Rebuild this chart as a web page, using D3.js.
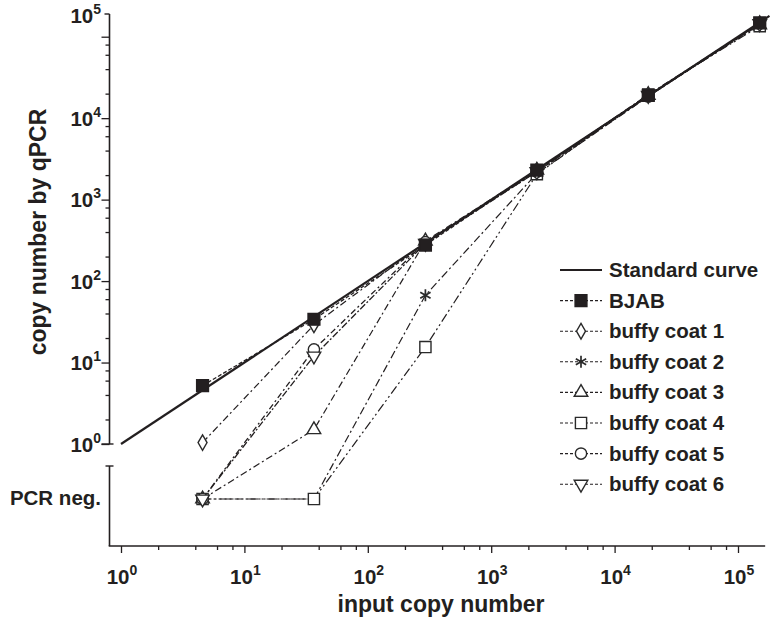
<!DOCTYPE html>
<html>
<head>
<meta charset="utf-8">
<script src="https://cdn.jsdelivr.net/npm/d3@7"></script>
<style>
  body { margin: 0; background: #fff; }
  svg { display: block; font-family: "Liberation Sans", Arial, sans-serif; font-weight: bold; }
</style>
</head>
<body>
<script>
// ---------- data ----------
const inputCopies = [4.58, 36.6, 293, 2344, 18750, 150000];
const standardRange = [1, 180000];           // standard curve: qPCR = input
const bjab        = [5.2, 34, 277, 2300, 19000, 148000];
const buffyCoat1  = [1.04, 29, 300, 2250, 19500, 145000];
const buffyCoat2  = [0, 0, 67, 2100, 18500, 145000];   // 0 = PCR negative
const buffyCoat3  = [0, 1.5, 310, 2300, 19000, 140000];
const buffyCoat4  = [0, 0, 15.5, 2050, 19500, 135000];
const buffyCoat5  = [0, 14.5, 300, 2200, 18500, 145000];
const buffyCoat6  = [0, 12, 290, 2200, 19000, 145000];
const seriesNames = ["BJAB", "buffy coat 1", "buffy coat 2", "buffy coat 3", "buffy coat 4", "buffy coat 5", "buffy coat 6"];
const legendLabels = ["Standard curve"].concat(seriesNames);
const xTickExponents = [0, 1, 2, 3, 4, 5];
const yTickExponents = [0, 1, 2, 3, 4, 5];
const negLabel = "PCR neg.";

// ---------- layout ----------
const W = 771, H = 623;
const ink = "#231f20";
const svg = d3.select("body").append("svg").attr("width", W).attr("height", H);

const x = d3.scaleLog().domain([1, 1e5]).range([121, 738]);
const y = d3.scaleLog().domain([1, 1.9e5]).range([444, 14]);
const yNeg = d3.scalePoint().domain([negLabel]).range([466, 532]).padding(0.5);

const axisX = 109.5, axisY = 546;
const xEnd = x(1.66e5);

const yPos = v => v === 0 ? yNeg(negLabel) : y(v);

// ---------- axes ----------
const g = svg.append("g");
g.append("line").attr("x1", axisX).attr("x2", axisX).attr("y1", y(1)).attr("y2", y.range()[1])
  .attr("stroke", ink).attr("stroke-width", 1.6);
g.append("line").attr("x1", axisX - 5).attr("x2", axisX).attr("y1", y.range()[1]).attr("y2", y.range()[1])
  .attr("stroke", ink).attr("stroke-width", 1.4);
g.append("line").attr("x1", axisX - 8).attr("x2", axisX + 4).attr("y1", y(1)).attr("y2", y(1))
  .attr("stroke", ink).attr("stroke-width", 1.4);
g.append("line").attr("x1", axisX).attr("x2", axisX).attr("y1", 466).attr("y2", axisY)
  .attr("stroke", ink).attr("stroke-width", 1.6);
g.append("line").attr("x1", axisX - 4).attr("x2", axisX + 4).attr("y1", 466).attr("y2", 466)
  .attr("stroke", ink).attr("stroke-width", 1.4);
g.append("line").attr("x1", axisX - 0.8).attr("x2", xEnd).attr("y1", axisY).attr("y2", axisY)
  .attr("stroke", ink).attr("stroke-width", 1.6);

const minorX = [], minorY = [];
for (let k = 0; k <= 5; k++) for (const m of [2, 4, 6, 8]) {
  const v = m * Math.pow(10, k);
  if (x(v) < xEnd) minorX.push(v);
  if (v < y.domain()[1]) minorY.push(v);
}
const majorVals = e => e.map(k => Math.pow(10, k));

const yMajor = svg.append("g").attr("transform", `translate(${axisX},0)`)
  .call(d3.axisLeft(y).tickValues(majorVals(yTickExponents)).tickSize(8).tickFormat(""));
const yMinor = svg.append("g").attr("transform", `translate(${axisX},0)`)
  .call(d3.axisLeft(y).tickValues(minorY).tickSize(4).tickFormat(""));
const xMajor = svg.append("g").attr("transform", `translate(0,${axisY})`)
  .call(d3.axisBottom(x).tickValues(majorVals(xTickExponents)).tickSize(7).tickFormat(""));
const xMinor = svg.append("g").attr("transform", `translate(0,${axisY})`)
  .call(d3.axisBottom(x).tickValues(minorX).tickSize(4).tickFormat(""));
[yMajor, yMinor, xMajor, xMinor].forEach(a => {
  a.select(".domain").remove();
  a.selectAll(".tick line").attr("stroke", ink).attr("stroke-width", 1.3);
});

function powLabel(sel, k, anchor) {
  sel.attr("text-anchor", anchor).attr("fill", ink).attr("font-size", 20.5);
  sel.append("tspan").text("10");
  sel.append("tspan").attr("dy", -9).attr("font-size", 14).text(k);
}
yTickExponents.forEach(k => {
  const v = Math.pow(10, k);
  const yy = k === d3.max(yTickExponents) ? y.range()[1] + 1 : y(v);
  powLabel(svg.append("text").attr("x", 101).attr("y", yy + 7.5), k, "end");
});
xTickExponents.forEach(k => {
  powLabel(svg.append("text").attr("x", x(Math.pow(10, k)) + 1).attr("y", 584), k, "middle");
});
svg.append("text").attr("x", 101).attr("y", yNeg(negLabel) + 6).attr("text-anchor", "end")
  .attr("font-size", 20.5).attr("fill", ink).text(negLabel);

svg.append("text").attr("transform", `translate(46,232) rotate(-90)`).attr("text-anchor", "middle")
  .attr("font-size", 23).attr("fill", ink).text("copy number by qPCR");
svg.append("text").attr("x", 441).attr("y", 612).attr("text-anchor", "middle")
  .attr("font-size", 23).attr("fill", ink).text("input copy number");

// ---------- series ----------
const series = [
  { name: seriesNames[0], values: bjab,       symbol: d3.symbolSquare,   size: 140, fill: ink,    dash: "4,2",         sw: 1.3 },
  { name: seriesNames[1], values: buffyCoat1, symbol: d3.symbolDiamond,  size: 70,  fill: "#fff", dash: "7,3,2,3",     sw: 1.2 },
  { name: seriesNames[2], values: buffyCoat2, symbol: d3.symbolAsterisk, size: 100, fill: "none", dash: "8,3,2,3",     sw: 1.2 },
  { name: seriesNames[3], values: buffyCoat3, symbol: d3.symbolTriangle, size: 80,  fill: "#fff", dash: "7,3,2,3",     sw: 1.2 },
  { name: seriesNames[4], values: buffyCoat4, symbol: d3.symbolSquare,   size: 125, fill: "#fff", dash: "9,3,2,3,2,3", sw: 1.2 },
  { name: seriesNames[5], values: buffyCoat5, symbol: d3.symbolCircle,   size: 100, fill: "#fff", dash: "6,3,2,3",     sw: 1.3 },
  { name: seriesNames[6], values: buffyCoat6, symbol: d3.symbolTriangle, size: 80,  fill: "#fff", dash: "7,2,2,2",     sw: 1.3, rotate: 180 }
];

const line = d3.line().x(d => x(d.x)).y(d => yPos(d.y));

svg.append("path")
  .attr("d", line(standardRange.map(v => ({ x: v, y: v }))))
  .attr("fill", "none").attr("stroke", ink).attr("stroke-width", 2.2);

const drawOrder = series.slice(1).concat([series[0]]);
drawOrder.forEach(s => {
  const pts = inputCopies.map((xv, i) => ({ x: xv, y: s.values[i] }));
  svg.append("path").attr("d", line(pts)).attr("fill", "none")
    .attr("stroke", ink).attr("stroke-width", s.sw).attr("stroke-dasharray", s.dash);
});
function marker(sel, s) {
  sel.attr("d", d3.symbol().type(s.symbol).size(s.size)())
    .attr("fill", s.fill).attr("stroke", s.fill === ink ? ink : "#2a2a2a")
    .attr("stroke-width", s.symbol === d3.symbolAsterisk ? 1.7 : 1.4);
}
drawOrder.forEach(s => {
  inputCopies.forEach((xv, i) => {
    const p = svg.append("path")
      .attr("transform", `translate(${x(xv)},${yPos(s.values[i])})` + (s.rotate ? ` rotate(${s.rotate})` : ""));
    marker(p, s);
  });
});

// ---------- legend ----------
const lg = svg.append("g");
const row0 = 270, rowH = 30.6, lx1 = 560, lx2 = 602, tx = 609;
legendLabels.forEach((lab, i) => {
  const yy = row0 + i * rowH;
  if (i === 0) {
    lg.append("line").attr("x1", lx1).attr("x2", lx2).attr("y1", yy).attr("y2", yy)
      .attr("stroke", ink).attr("stroke-width", 1.8);
  } else {
    const s = series[i - 1];
    lg.append("line").attr("x1", lx1).attr("x2", lx2).attr("y1", yy).attr("y2", yy)
      .attr("stroke", ink).attr("stroke-width", 1.1).attr("stroke-dasharray", "3,2");
    const p = lg.append("path")
      .attr("transform", `translate(${(lx1 + lx2) / 2},${yy})` + (s.rotate ? ` rotate(${s.rotate})` : ""));
    marker(p, s);
  }
  lg.append("text").attr("x", tx).attr("y", yy + 7).attr("font-size", 20.5).attr("fill", ink).text(lab);
});
</script>
</body>
</html>
